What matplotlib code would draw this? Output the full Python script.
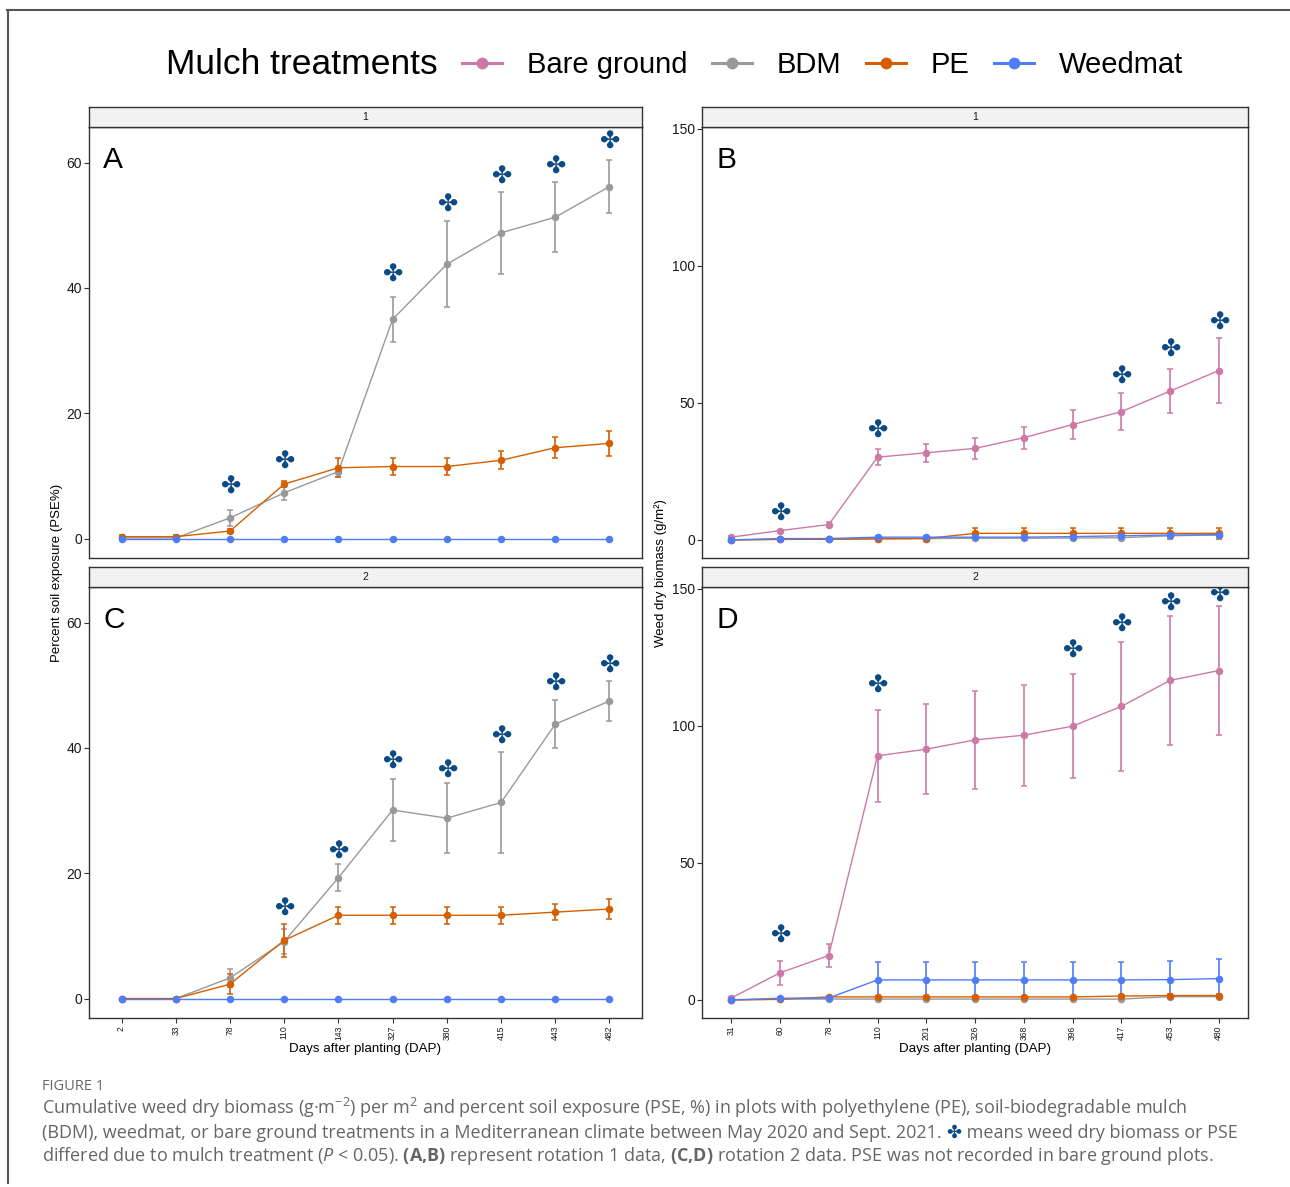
import numpy as np
import matplotlib.pyplot as plt
from matplotlib.lines import Line2D

plt.rcParams['font.family'] = ['Liberation Sans', 'DejaVu Sans']
plt.rcParams['mathtext.fontset'] = 'custom'
plt.rcParams['mathtext.rm'] = 'Open Sans'
plt.rcParams['mathtext.it'] = 'Open Sans:italic'
plt.rcParams['mathtext.bf'] = 'Open Sans:bold'

# x categories (days after planting)
dap_pse = ['2', '33', '78', '110', '143', '327', '380', '415', '443', '482']
dap_bio = ['31', '60', '78', '110', '201', '326', '368', '396', '417', '453', '480']

# percent soil exposure, rotation 1 (panel A)
pse1_bdm = [0.1, 0.1, 3.3, 7.3, 10.7, 35.0, 43.8, 48.8, 51.3, 56.2]
pse1_bdm_se = [0.1, 0.1, 1.25, 1.2, 0.8, 3.55, 6.9, 6.6, 5.55, 4.3]
pse1_pe = [0.3, 0.3, 1.2, 8.7, 11.3, 11.5, 11.5, 12.5, 14.5, 15.2]
pse1_pe_se = [0.2, 0.2, 0.3, 0.5, 1.5, 1.3, 1.3, 1.45, 1.7, 1.95]
pse1_wm = [0, 0, 0, 0, 0, 0, 0, 0, 0, 0]
pse1_wm_se = [0, 0, 0, 0, 0, 0, 0, 0, 0, 0]
pse1_sig_x = ['78', '110', '327', '380', '415', '443', '482']
pse1_sig_y = [8.3, 12.3, 42.1, 53.3, 57.8, 59.4, 63.4]

# percent soil exposure, rotation 2 (panel C)
pse2_bdm = [0, 0, 3.3, 9.1, 19.3, 30.1, 28.8, 31.3, 43.8, 47.5]
pse2_bdm_se = [0, 0, 1.5, 2.0, 2.2, 5.0, 5.6, 8.0, 3.8, 3.2]
pse2_pe = [0, 0, 2.3, 9.3, 13.3, 13.3, 13.3, 13.3, 13.8, 14.3]
pse2_pe_se = [0, 0, 1.6, 2.6, 1.35, 1.35, 1.35, 1.35, 1.3, 1.65]
pse2_wm = [0, 0, 0, 0, 0, 0, 0, 0, 0, 0]
pse2_wm_se = [0, 0, 0, 0, 0, 0, 0, 0, 0, 0]
pse2_sig_x = ['110', '143', '327', '380', '415', '443', '482']
pse2_sig_y = [14.3, 23.5, 37.8, 36.4, 41.8, 50.2, 53.2]

# weed dry biomass, rotation 1 (panel B)
bio1_bare = [1.0, 3.4, 5.6, 30.2, 31.8, 33.4, 37.3, 42.1, 46.8, 54.3, 61.8]
bio1_bare_se = [0.3, 0.3, 0.9, 3.0, 3.2, 3.8, 4.0, 5.4, 6.7, 8.0, 11.8]
bio1_bdm = [0, 0.2, 0.3, 0.4, 0.5, 0.6, 0.6, 0.7, 0.8, 1.5, 1.8]
bio1_bdm_se = [0, 0.1, 0.1, 0.2, 0.2, 0.3, 0.3, 0.3, 0.3, 0.5, 0.5]
bio1_pe = [0, 0.2, 0.2, 0.4, 0.5, 2.4, 2.4, 2.4, 2.4, 2.4, 2.4]
bio1_pe_se = [0, 0.1, 0.1, 0.2, 0.2, 2.1, 2.1, 2.1, 2.1, 2.1, 2.1]
bio1_wm = [0, 0.5, 0.5, 1.0, 1.0, 1.0, 1.0, 1.2, 1.5, 1.8, 1.9]
bio1_wm_se = [0, 0.2, 0.2, 0.4, 0.4, 0.4, 0.4, 0.5, 0.5, 0.6, 0.6]
bio1_sig_x = ['60', '110', '417', '453', '480']
bio1_sig_y = [9.5, 39.8, 59.6, 69.4, 79.4]

# weed dry biomass, rotation 2 (panel D)
bio2_bare = [0.7, 9.9, 16.2, 89.1, 91.5, 94.9, 96.6, 99.9, 107.1, 116.6, 120.2]
bio2_bare_se = [0.3, 4.4, 4.3, 16.8, 16.5, 18.0, 18.5, 18.9, 23.7, 23.4, 23.4]
bio2_bdm = [0, 0.3, 0.3, 0.3, 0.3, 0.3, 0.3, 0.3, 0.3, 1.2, 1.2]
bio2_bdm_se = [0, 0.1, 0.1, 0.1, 0.1, 0.1, 0.1, 0.1, 0.1, 0.3, 0.3]
bio2_pe = [0, 0.2, 1.1, 1.1, 1.1, 1.1, 1.1, 1.1, 1.4, 1.6, 1.6]
bio2_pe_se = [0, 0.1, 0.4, 0.4, 0.4, 0.4, 0.4, 0.4, 0.4, 0.4, 0.4]
bio2_wm = [0, 0.6, 0.7, 7.3, 7.3, 7.3, 7.3, 7.3, 7.3, 7.4, 7.8]
bio2_wm_se = [0, 0.2, 0.2, 6.7, 6.7, 6.7, 6.7, 6.7, 6.7, 6.7, 7.0]
bio2_sig_x = ['60', '110', '396', '417', '453', '480']
bio2_sig_y = [23.3, 114.5, 127.6, 137.0, 144.5, 148.0]

treatments = ['Bare ground', 'BDM', 'PE', 'Weedmat']
colors = {'Bare ground': '#CC79A7', 'BDM': '#999999', 'PE': '#D55E00', 'Weedmat': '#4F7CF7'}
sig_color = '#0B4A84'
frame_col = '#333333'

W, H = 1290, 1187
fig = plt.figure(figsize=(W / 100, H / 100), dpi=100)


def px_rect(x0, y0, x1, y1):
    # pixel box (top-left origin) -> figure fraction rect
    return [x0 / W, 1 - y1 / H, (x1 - x0) / W, (y1 - y0) / H]


def draw_panel(box, strip_box, labels, series, sig_x, sig_y, ylim, yticks,
               letter, strip_txt, show_x):
    ax = fig.add_axes(px_rect(*box))
    x = np.arange(1, len(labels) + 1)
    for name, mean, se in series:
        ax.errorbar(x, mean, yerr=se, color=colors[name], lw=1.0,
                    marker='o', ms=4.4, elinewidth=1.2, capsize=2.2,
                    capthick=1.1, zorder=3)
    sx = [labels.index(s) + 1 for s in sig_x]
    for xi, yi in zip(sx, sig_y):
        ax.text(xi, yi, '\u2724', ha='center', va='center', fontsize=17.5,
                color=sig_color, family='DejaVu Sans', zorder=4)
    ax.set_xlim(0.4, len(labels) + 0.6)
    ax.set_ylim(*ylim)
    ax.set_yticks(yticks)
    ax.tick_params(axis='y', labelsize=10, length=3.5, width=0.8,
                   color=frame_col, pad=1.5, labelcolor='#1A1A1A')
    if show_x:
        ax.set_xticks(x)
        ax.set_xticklabels(labels, rotation=90, fontsize=6.2, color='#1A1A1A')
        ax.tick_params(axis='x', length=3.5, width=0.8, color=frame_col, pad=2)
    else:
        ax.set_xticks([])
    for sp in ax.spines.values():
        sp.set_color(frame_col)
        sp.set_linewidth(1.0)
    ax.text(0.026, 0.955, letter, transform=ax.transAxes, fontsize=21.5,
            ha='left', va='top')

    st = fig.add_axes(px_rect(*strip_box))
    st.set_facecolor('#F2F2F2')
    st.set_xticks([])
    st.set_yticks([])
    for sp in st.spines.values():
        sp.set_color(frame_col)
        sp.set_linewidth(1.0)
    st.text(0.5, 0.5, strip_txt, ha='center', va='center', fontsize=7.5,
            color='#1A1A1A', transform=st.transAxes)
    return ax


draw_panel((89, 127, 642, 558), (89, 107, 642, 127), dap_pse,
           [('BDM', pse1_bdm, pse1_bdm_se), ('PE', pse1_pe, pse1_pe_se),
            ('Weedmat', pse1_wm, pse1_wm_se)],
           pse1_sig_x, pse1_sig_y, (-3.1, 65.7), [0, 20, 40, 60], 'A', '1', False)
draw_panel((89, 587, 642, 1018), (89, 567, 642, 587), dap_pse,
           [('BDM', pse2_bdm, pse2_bdm_se), ('PE', pse2_pe, pse2_pe_se),
            ('Weedmat', pse2_wm, pse2_wm_se)],
           pse2_sig_x, pse2_sig_y, (-3.1, 65.7), [0, 20, 40, 60], 'C', '2', True)
draw_panel((702, 127, 1248, 558), (702, 107, 1248, 127), dap_bio,
           [('Bare ground', bio1_bare, bio1_bare_se), ('BDM', bio1_bdm, bio1_bdm_se),
            ('PE', bio1_pe, bio1_pe_se), ('Weedmat', bio1_wm, bio1_wm_se)],
           bio1_sig_x, bio1_sig_y, (-6.6, 150.7), [0, 50, 100, 150], 'B', '1', False)
draw_panel((702, 587, 1248, 1018), (702, 567, 1248, 587), dap_bio,
           [('Bare ground', bio2_bare, bio2_bare_se), ('BDM', bio2_bdm, bio2_bdm_se),
            ('PE', bio2_pe, bio2_pe_se), ('Weedmat', bio2_wm, bio2_wm_se)],
           bio2_sig_x, bio2_sig_y, (-6.6, 150.7), [0, 50, 100, 150], 'D', '2', True)

# axis titles
fig.text(57 / W, 1 - 573 / H, 'Percent soil exposure (PSE%)', rotation=90,
         ha='center', va='center', fontsize=9.5)
fig.text(661 / W, 1 - 573 / H, 'Weed dry biomass (g/m\u00b2)', rotation=90,
         ha='center', va='center', fontsize=9.5)
fig.text(365.5 / W, 1 - 1049 / H, 'Days after planting (DAP)', ha='center',
         va='center', fontsize=9.6)
fig.text(975 / W, 1 - 1049 / H, 'Days after planting (DAP)', ha='center',
         va='center', fontsize=9.6)

# legend
handles = [Line2D([], [], color=colors[t], lw=2.2, marker='o', ms=7.5)
           for t in treatments]
fig.text(166 / W, 1 - 65 / H, 'Mulch treatments', ha='left', va='center',
         fontsize=25.5)
fig.legend(handles, treatments, loc='center left',
           bbox_to_anchor=(462 / W, 1 - 65 / H), ncol=4, frameon=False,
           fontsize=21, handlelength=1.37, handletextpad=0.86,
           columnspacing=0.83, borderpad=0, borderaxespad=0)

# page frame
fig.add_artist(Line2D([7 / W, 1], [1 - 10 / H, 1 - 10 / H], transform=fig.transFigure,
                      color='#555555', lw=1.5))
fig.add_artist(Line2D([7.5 / W, 7.5 / W], [1 - 10 / H, 1 - 1183 / H],
                      transform=fig.transFigure, color='#555555', lw=1.5))

# caption
cap_col = '#666666'
cap_font = ['Open Sans', 'DejaVu Sans']
cap_size = 13.0
fig.text(42 / W, 1 - 1090 / H, 'FIGURE 1', fontsize=10.5, color=cap_col,
         family=cap_font, va='baseline')
fig.text(42 / W, 1 - 1114 / H,
         'Cumulative weed dry biomass (g\u00b7m$^{-2}$) per m$^{2}$ and percent soil '
         'exposure (PSE, %) in plots with polyethylene (PE), soil-biodegradable mulch',
         fontsize=cap_size, color=cap_col, family=cap_font, va='baseline')
t2 = fig.text(42 / W, 1 - 1138 / H,
              '(BDM), weedmat, or bare ground treatments in a Mediterranean climate '
              'between May 2020 and Sept. 2021. ',
              fontsize=cap_size, color=cap_col, family=cap_font, va='baseline')
t2b = fig.text(0, 0, '\u2724', fontsize=cap_size, color=sig_color,
               family='DejaVu Sans', va='baseline')
t2c = fig.text(0, 0, ' means weed dry biomass or PSE', fontsize=cap_size,
               color=cap_col, family=cap_font, va='baseline')
fig.text(42 / W, 1 - 1161 / H,
         'differed due to mulch treatment ($\\mathit{P}$ < 0.05). $\\mathbf{(A{,}B)}$ '
         'represent rotation 1 data, $\\mathbf{(C{,}D)}$ rotation 2 data. PSE was not '
         'recorded in bare ground plots.',
         fontsize=cap_size, color=cap_col, family=cap_font, va='baseline')

# chain the caption pieces of line 2
fig.canvas.draw()
r = fig.canvas.get_renderer()
bb = t2.get_window_extent(r)
t2b.set_position((bb.x1 / W, 1 - 1138 / H))
bb2 = t2b.get_window_extent(r)
t2c.set_position((bb2.x1 / W, 1 - 1138 / H))

fig.savefig('out.png', dpi=100)
